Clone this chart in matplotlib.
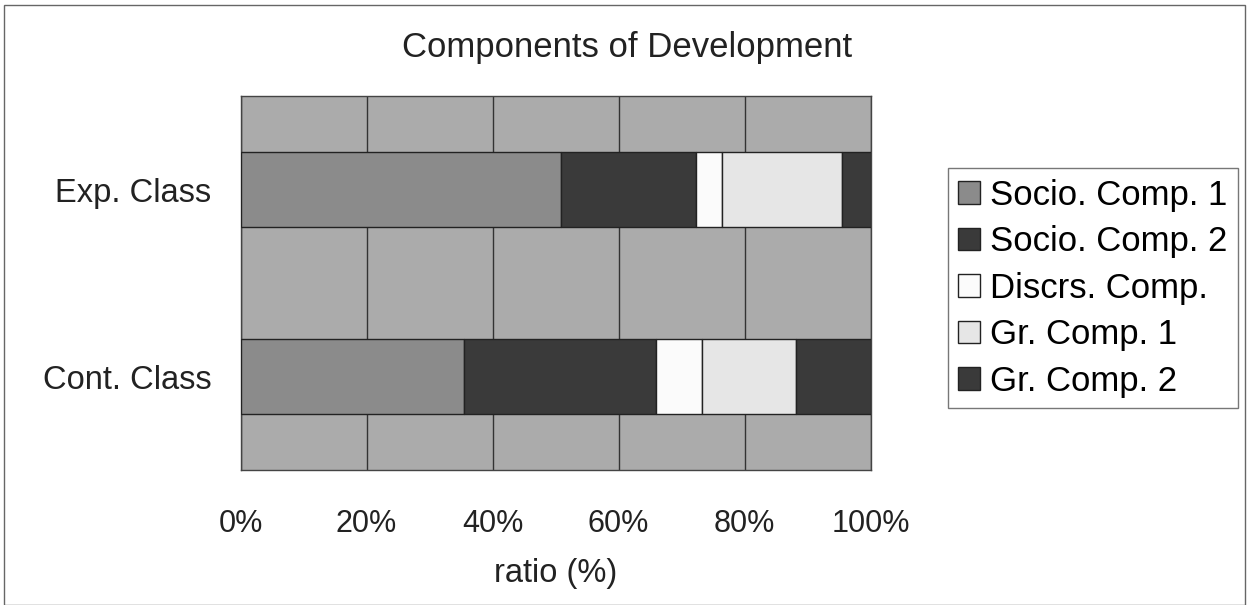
import matplotlib.pyplot as plt
import numpy as np

plt.rcParams['font.family'] = ['Liberation Sans', 'DejaVu Sans']

classes = ["Cont. Class", "Exp. Class"]
components = ["Socio. Comp. 1", "Socio. Comp. 2", "Discrs. Comp.", "Gr. Comp. 1", "Gr. Comp. 2"]
# percent shares per component, order matches `classes`
socio1 = [35.5, 50.8]
socio2 = [30.5, 21.5]
discrs = [7.2, 4.1]
gr1 = [14.9, 19.1]
gr2 = [11.9, 4.5]
xticks = [0, 20, 40, 60, 80, 100]

series = [socio1, socio2, discrs, gr1, gr2]
colors = ["#8b8b8b", "#3a3a3a", "#fbfbfb", "#e6e6e6", "#3a3a3a"]

fig = plt.figure(figsize=(12.49, 6.05), dpi=100)
ax = fig.add_axes([0.1926, 0.2231, 0.5044, 0.6182])
ax.set_facecolor("#ababab")

y = np.arange(len(classes))
left = np.zeros(len(classes))
for vals, col, name in zip(series, colors, components):
    ax.barh(y, vals, left=left, height=0.4, color=col, edgecolor="#222222",
            linewidth=1.0, label=name, zorder=3)
    left += np.array(vals)

ax.set_xlim(0, 100)
ax.set_ylim(-0.5, 1.5)
ax.set_xticks(xticks)
ax.set_xticklabels([f"{t}%" for t in xticks], fontsize=22, color="#222222")
ax.set_yticks(y)
ax.set_yticklabels(classes, fontsize=23.5, color="#222222")
ax.tick_params(axis="y", length=0, pad=21)
ax.tick_params(axis="x", length=0, pad=28)
ax.grid(axis="x", color="#333333", linewidth=1.0, zorder=1)
ax.set_axisbelow(True)
for s in ax.spines.values():
    s.set_color("#444444")
    s.set_linewidth(1.0)

ax.set_xlabel("ratio (%)", fontsize=23.5, color="#222222", labelpad=14)
fig.text(0.502, 0.922, "Components of Development", ha="center", va="center",
         fontsize=25, color="#222222")

leg = fig.legend(loc="upper left", bbox_to_anchor=(0.759, 0.722), fontsize=25,
                 frameon=True, fancybox=False, edgecolor="#555555",
                 handlelength=0.63, handleheight=0.63, handletextpad=0.28,
                 labelspacing=0.39, borderpad=0.3, borderaxespad=0)
leg.get_frame().set_linewidth(1.0)

fig.patches.append(plt.Rectangle((0.003, 0.0), 0.994, 0.992, transform=fig.transFigure,
                                 fill=False, edgecolor="#666666", linewidth=1.0))

fig.savefig("out.png", dpi=100)
